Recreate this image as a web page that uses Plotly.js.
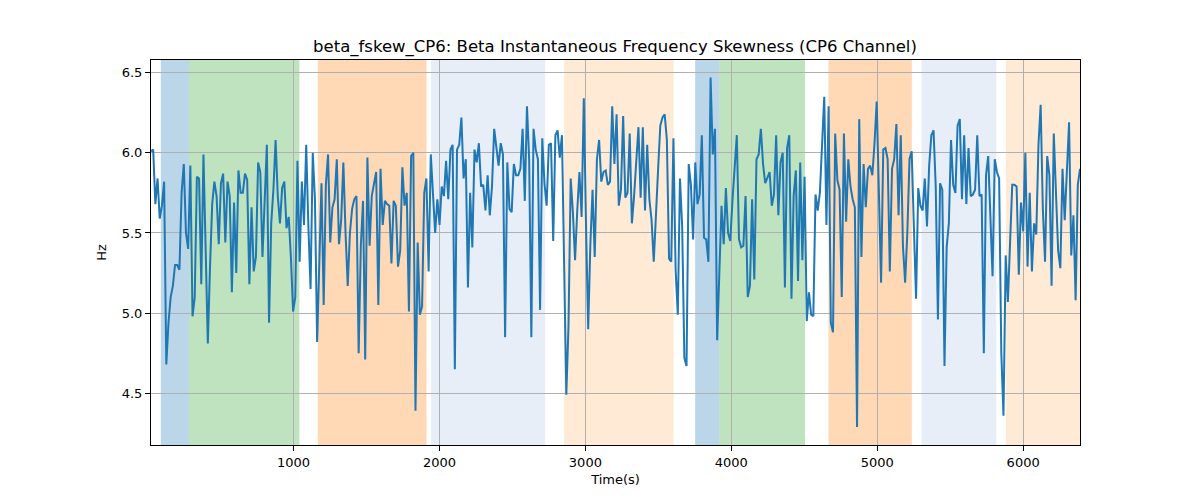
<!DOCTYPE html>
<html>
<head>
<meta charset="utf-8">
<script src="https://cdn.plot.ly/plotly-3.0.1.min.js"></script>
<style>
  html, body { margin: 0; padding: 0; background: #ffffff; }
  #chart { width: 1200px; height: 500px; }
</style>
</head>
<body>
<div id="chart"></div>
<script>
// sampling of the skewness series (seconds)
var timeStart = 23;
var timeStep = 14.98;

var skewness = [
  6.01, 6.02, 5.68, 5.84, 5.59, 5.67, 5.82, 4.68, 4.94, 5.10,
  5.17, 5.30, 5.30, 5.27, 5.75, 5.93, 5.50, 5.40, 5.92, 4.98,
  5.10, 5.85, 5.84, 5.18, 5.99, 5.40, 4.81, 5.29, 5.68, 5.82,
  5.73, 5.43, 5.81, 5.87, 5.44, 5.82, 5.73, 5.13, 5.69, 5.25,
  5.89, 5.75, 5.75, 5.87, 5.83, 5.18, 5.66, 5.26, 5.35, 5.94,
  5.88, 5.35, 5.75, 6.05, 4.94, 5.56, 5.77, 6.08, 5.73, 5.56,
  5.78, 5.82, 5.53, 5.60, 5.35, 5.01, 5.10, 5.95, 5.32, 5.82,
  5.55, 6.05, 5.54, 5.15, 6.00, 5.71, 4.82, 5.25, 5.81, 5.05,
  5.80, 5.99, 5.44, 5.66, 5.71, 5.96, 5.43, 5.58, 5.94, 5.50,
  5.17, 5.50, 5.65, 5.71, 5.73, 4.75, 5.42, 5.70, 4.71, 5.97,
  5.42, 5.73, 5.81, 5.88, 5.05, 5.90, 5.55, 5.70, 5.68, 5.67,
  5.31, 5.70, 5.67, 5.29, 5.39, 5.91, 5.67, 5.75, 5.01, 5.98,
  6.00, 4.39, 5.44, 4.99, 5.04, 5.75, 5.84, 5.26, 5.99, 5.75,
  5.50, 5.71, 5.55, 5.79, 5.73, 5.95, 5.71, 6.02, 6.05, 4.65,
  6.02, 6.05, 6.22, 5.84, 5.96, 5.16, 5.75, 5.41, 6.02, 5.94,
  6.06, 5.79, 5.80, 5.64, 5.86, 5.61, 5.79, 6.15, 6.02, 5.92,
  6.06, 5.99, 4.85, 5.94, 5.65, 5.63, 5.93, 5.86, 5.86, 5.90,
  6.15, 5.70, 6.29, 5.96, 4.85, 6.15, 6.02, 5.96, 5.02, 6.09,
  5.81, 5.67, 6.05, 6.06, 5.45, 6.11, 6.14, 5.97, 6.11, 5.33,
  4.49, 4.92, 5.84, 5.63, 5.33, 5.64, 5.88, 5.60, 6.34, 5.56,
  4.90, 5.43, 5.77, 5.35, 5.96, 6.08, 5.82, 5.88, 5.89, 5.80,
  5.82, 6.29, 5.93, 6.24, 5.67, 5.77, 6.23, 5.72, 5.75, 6.12,
  5.56, 5.73, 5.96, 6.16, 5.72, 6.16, 5.64, 6.05, 5.71, 5.58,
  5.32, 5.65, 5.90, 6.17, 6.22, 6.24, 6.08, 5.34, 5.32, 6.09,
  5.27, 4.99, 5.84, 5.54, 4.72, 4.67, 5.93, 5.80, 5.46, 5.94,
  5.68, 5.74, 6.11, 5.47, 5.46, 5.32, 6.47, 5.99, 6.15, 4.83,
  5.29, 5.67, 5.43, 5.78, 5.50, 5.45, 5.70, 5.93, 6.11, 5.46,
  5.41, 5.42, 5.73, 5.10, 5.17, 5.71, 5.21, 5.96, 5.99, 6.15,
  5.93, 5.81, 5.84, 5.88, 5.67, 5.74, 6.11, 5.61, 5.94, 6.00,
  5.16, 6.03, 6.11, 5.09, 5.73, 5.89, 5.20, 5.94, 5.33, 5.85,
  4.95, 5.13, 4.99, 4.98, 5.74, 5.64, 5.75, 6.06, 6.35, 5.55,
  6.29, 4.94, 4.88, 6.12, 5.83, 5.77, 5.10, 6.12, 5.57, 5.96,
  5.79, 5.71, 5.66, 4.29, 6.21, 5.35, 5.93, 5.66, 5.90, 5.92,
  5.86, 6.06, 6.32, 5.75, 5.19, 6.02, 6.03, 5.96, 5.26, 5.90,
  5.96, 6.18, 5.61, 6.11, 5.42, 5.19, 5.50, 5.96, 6.01, 5.54,
  5.09, 5.78, 5.67, 5.64, 5.84, 5.54, 5.92, 6.11, 6.14, 5.79,
  4.96, 5.81, 5.77, 4.67, 5.41, 5.56, 6.08, 5.80, 5.75, 6.17,
  6.21, 5.71, 6.11, 5.68, 6.03, 5.73, 5.74, 5.77, 6.11, 5.73,
  5.74, 4.75, 5.86, 5.98, 5.58, 5.23, 5.96, 5.88, 5.84, 4.75,
  4.36, 5.36, 5.07, 5.50, 5.80, 5.80, 5.79, 5.24, 5.69, 5.51,
  6.00, 5.29, 5.75, 5.26, 5.56, 5.49, 6.05, 6.30, 5.65, 5.32,
  5.98, 5.86, 5.17, 6.12, 5.71, 5.39, 5.28, 5.90, 5.58, 5.88,
  6.19, 5.36, 5.61, 5.08, 5.80, 5.90
];

// shaded phases along the time axis
var phaseStarts = [90, 284, 1166, 1942, 2854, 3752, 3918, 4666, 5303, 5881];
var phaseEnds = [284, 1040, 1911, 2724, 3605, 3918, 4505, 5237, 5816, 6420];
var phaseColors = [
  'rgba(31, 119, 180, 0.3)',
  'rgba(44, 160, 44, 0.3)',
  'rgba(255, 127, 14, 0.3)',
  'rgba(174, 199, 232, 0.3)',
  'rgba(255, 187, 120, 0.3)',
  'rgba(31, 119, 180, 0.3)',
  'rgba(44, 160, 44, 0.3)',
  'rgba(255, 127, 14, 0.3)',
  'rgba(174, 199, 232, 0.3)',
  'rgba(255, 187, 120, 0.3)'
];

var yTicks = [4.5, 5.0, 5.5, 6.0, 6.5];
var xTicks = [1000, 2000, 3000, 4000, 5000, 6000];

var timeEnd = timeStart + timeStep * (skewness.length - 1);

var shapes = phaseStarts.map(function (start, i) {
  return {
    type: 'rect',
    xref: 'x',
    yref: 'paper',
    x0: start,
    x1: phaseEnds[i],
    y0: 0,
    y1: 1,
    fillcolor: phaseColors[i],
    line: { width: 0 },
    layer: 'below'
  };
});

var trace = {
  type: 'scatter',
  mode: 'lines',
  x0: timeStart,
  dx: timeStep,
  y: skewness,
  line: { color: '#1f77b4', width: 2 },
  hoverinfo: 'x+y'
};

var font = 'DejaVu Sans, sans-serif';

var layout = {
  width: 1200,
  height: 500,
  margin: { l: 151, r: 120, t: 60, b: 55, pad: 0 },
  paper_bgcolor: '#ffffff',
  plot_bgcolor: '#ffffff',
  showlegend: false,
  font: { family: font, size: 13, color: '#000000' },
  title: {
    text: 'beta_fskew_CP6: Beta Instantaneous Frequency Skewness (CP6 Channel)',
    font: { family: font, size: 16.5, color: '#000000' },
    x: 0.5125,
    xanchor: 'center',
    yref: 'container',
    y: 0.908,
    yanchor: 'middle'
  },
  xaxis: {
    range: [timeStart, timeEnd],
    tickvals: xTicks,
    ticktext: xTicks.map(String),
    ticks: 'outside',
    ticklen: 5,
    tickwidth: 1,
    tickcolor: '#000000',
    showgrid: true,
    gridcolor: '#b0b0b0',
    gridwidth: 1,
    zeroline: false,
    showline: true,
    linecolor: '#000000',
    linewidth: 1,
    mirror: true,
    tickfont: { family: font, size: 13 },
    title: { text: 'Time(s)', font: { family: font, size: 13 }, standoff: 6 }
  },
  yaxis: {
    range: [4.177, 6.579],
    tickvals: yTicks,
    ticktext: yTicks.map(function (v) { return v.toFixed(1); }),
    ticks: 'outside',
    ticklen: 5,
    tickwidth: 1,
    tickcolor: '#000000',
    showgrid: true,
    gridcolor: '#b0b0b0',
    gridwidth: 1,
    zeroline: false,
    showline: true,
    linecolor: '#000000',
    linewidth: 1,
    mirror: true,
    tickfont: { family: font, size: 13 },
    title: { text: 'Hz', font: { family: font, size: 13 }, standoff: 12 }
  },
  shapes: shapes
};

Plotly.newPlot('chart', [trace], layout, { displayModeBar: false, staticPlot: true });
</script>
</body>
</html>
